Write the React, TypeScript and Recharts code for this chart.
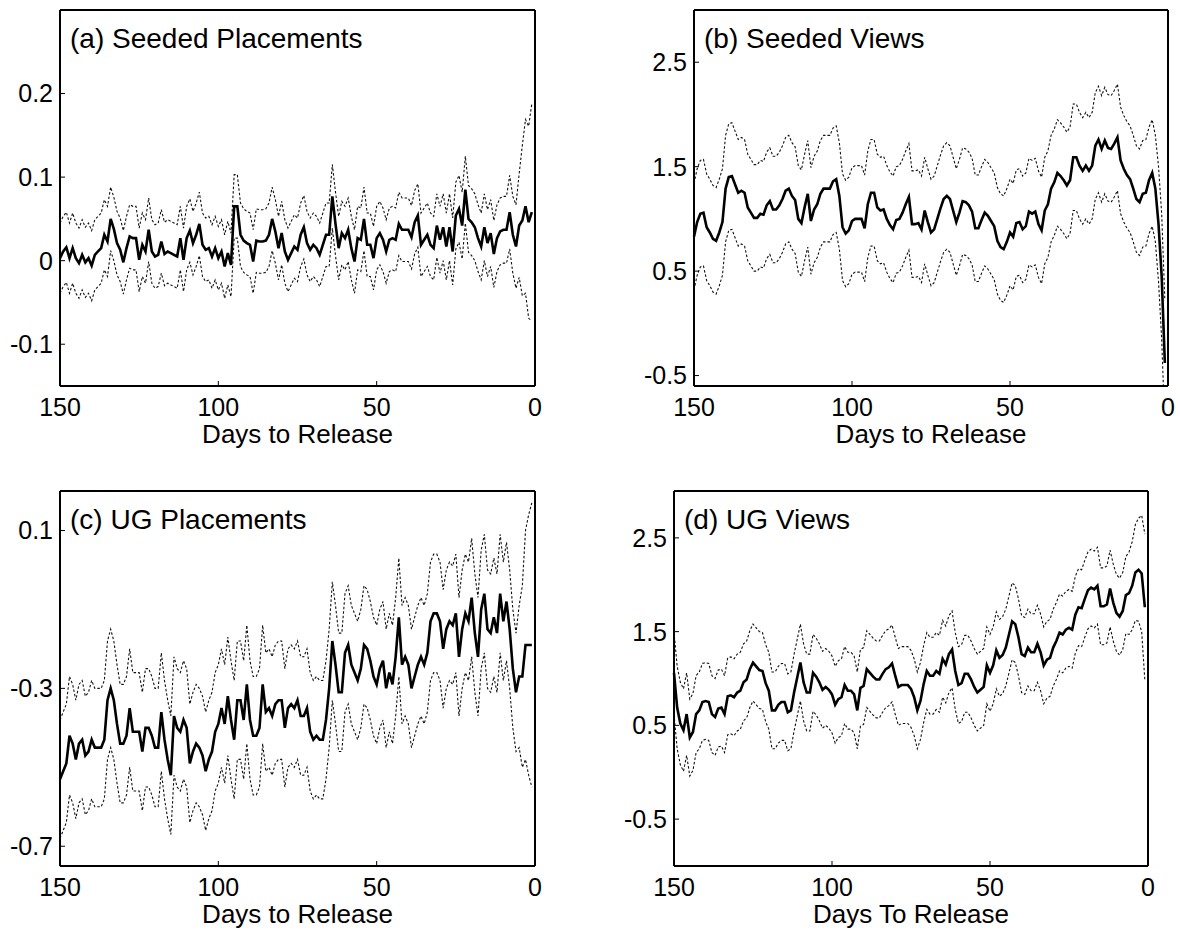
import { useMemo } from 'react';
import { Line, LineChart, XAxis, YAxis } from 'recharts';

// days to release, left (150) to right (1)
const DAYS = Array.from({ length: 150 }, (_, i) => 150 - i);
const X_TICKS = [150, 100, 50, 0];

// (a) Seeded Placements
const seededPlacementsEst = [
  0.003, 0.011, 0.016, 0.003, 0.015, 0.003, -0.003, 0.007, -0.002, 0.003,
  -0.006, 0.007, 0.011, 0.015, 0.031, 0.023, 0.05, 0.038, 0.021, 0.013,
  -0.002, 0.015, 0.029, 0.027, 0.027, 0.001, 0.019, 0.011, 0.037, 0.011,
  0.005, 0.007, 0.023, 0.008, 0.011, 0.009, 0.007, 0.005, 0.027, 0.001,
  0.027, 0.036, 0.021, 0.031, 0.044, 0.019, 0.013, 0.015, 0.005, 0.015,
  0.003, 0.011, -0.007, 0.009, -0.005, 0.065, 0.065, 0.031, 0.024, 0.021,
  0.019, -0.001, 0.024, 0.023, 0.023, 0.024, 0.031, 0.05, 0.035, 0.015,
  0.033, 0.011, 0.001, 0.009, 0.017, 0.013, 0.031, 0.04, 0.021, 0.013,
  0.019, 0.015, 0.007, 0.019, 0.031, 0.031, 0.077, 0.044, 0.015, 0.033,
  0.027, 0.037, 0.015, -0.001, 0.027, 0.025, 0.05, 0.019, 0.019, 0.003,
  0.027, 0.033, 0.025, 0.011, 0.025, 0.027, 0.025, 0.044, 0.037, 0.037,
  0.037, 0.028, 0.046, 0.054, 0.019, 0.025, 0.031, 0.019, 0.015, 0.042,
  0.025, 0.04, 0.017, 0.04, 0.011, 0.054, 0.062, 0.042, 0.085, 0.05,
  0.046, 0.04, 0.027, 0.017, 0.04, 0.021, 0.033, 0.008, 0.027, 0.035,
  0.037, 0.037, 0.058, 0.031, 0.017, 0.042, 0.048, 0.065, 0.046, 0.058,
];
const seededPlacementsHi = [
  0.045, 0.053, 0.058, 0.045, 0.057, 0.045, 0.039, 0.049, 0.04, 0.045,
  0.036, 0.049, 0.053, 0.057, 0.073, 0.065, 0.088, 0.076, 0.059, 0.051,
  0.036, 0.053, 0.067, 0.065, 0.065, 0.039, 0.057, 0.049, 0.075, 0.049,
  0.043, 0.045, 0.061, 0.046, 0.049, 0.047, 0.045, 0.043, 0.065, 0.039,
  0.065, 0.074, 0.059, 0.069, 0.082, 0.057, 0.051, 0.053, 0.043, 0.053,
  0.041, 0.049, 0.031, 0.047, 0.033, 0.103, 0.103, 0.069, 0.062, 0.059,
  0.057, 0.037, 0.062, 0.061, 0.061, 0.062, 0.069, 0.088, 0.073, 0.053,
  0.071, 0.049, 0.039, 0.047, 0.055, 0.051, 0.069, 0.078, 0.059, 0.051,
  0.057, 0.053, 0.045, 0.057, 0.069, 0.069, 0.115, 0.082, 0.053, 0.071,
  0.065, 0.075, 0.053, 0.037, 0.065, 0.063, 0.088, 0.057, 0.057, 0.041,
  0.065, 0.071, 0.063, 0.049, 0.063, 0.065, 0.063, 0.082, 0.075, 0.075,
  0.075, 0.066, 0.084, 0.092, 0.057, 0.063, 0.069, 0.057, 0.053, 0.08,
  0.065, 0.08, 0.057, 0.08, 0.051, 0.094, 0.102, 0.082, 0.125, 0.09,
  0.086, 0.08, 0.067, 0.057, 0.08, 0.061, 0.073, 0.048, 0.067, 0.075,
  0.077, 0.077, 0.102, 0.077, 0.067, 0.104, 0.138, 0.169, 0.161, 0.188,
];
const seededPlacementsLo = [
  -0.039, -0.031, -0.026, -0.039, -0.027, -0.039, -0.045, -0.035, -0.044, -0.039,
  -0.048, -0.035, -0.031, -0.027, -0.011, -0.019, 0.012, 0.0, -0.017, -0.025,
  -0.04, -0.023, -0.009, -0.011, -0.011, -0.037, -0.019, -0.027, -0.001, -0.027,
  -0.033, -0.031, -0.015, -0.03, -0.027, -0.029, -0.031, -0.033, -0.011, -0.037,
  -0.011, -0.002, -0.017, -0.007, 0.006, -0.019, -0.025, -0.023, -0.033, -0.023,
  -0.035, -0.027, -0.045, -0.029, -0.043, 0.027, 0.027, -0.007, -0.014, -0.017,
  -0.019, -0.039, -0.014, -0.015, -0.015, -0.014, -0.007, 0.012, -0.003, -0.023,
  -0.005, -0.027, -0.037, -0.029, -0.021, -0.025, -0.007, 0.002, -0.017, -0.025,
  -0.019, -0.023, -0.031, -0.019, -0.007, -0.007, 0.039, 0.006, -0.023, -0.005,
  -0.011, -0.001, -0.023, -0.039, -0.011, -0.013, 0.012, -0.019, -0.019, -0.035,
  -0.011, -0.005, -0.013, -0.027, -0.013, -0.011, -0.013, 0.006, -0.001, -0.001,
  -0.001, -0.01, 0.008, 0.016, -0.019, -0.013, -0.007, -0.019, -0.023, 0.004,
  -0.015, 0.0, -0.023, 0.0, -0.029, 0.014, 0.022, 0.002, 0.045, 0.01,
  0.006, 0.0, -0.013, -0.023, 0.0, -0.019, -0.007, -0.032, -0.013, -0.005,
  -0.003, -0.003, 0.014, -0.015, -0.033, -0.02, -0.042, -0.039, -0.069, -0.072,
];

// (b) Seeded Views
const seededViewsEst = [
  0.83, 0.97, 1.05, 1.06, 0.92, 0.87, 0.81, 0.79, 0.87, 0.97,
  1.29, 1.4, 1.41, 1.33, 1.25, 1.27, 1.25, 1.11, 1.06, 1.01,
  1.01, 1.05, 1.04, 1.13, 1.17, 1.09, 1.09, 1.13, 1.19, 1.27,
  1.29, 1.22, 1.18, 1.0, 0.96, 1.11, 1.24, 0.98, 1.09, 1.14,
  1.24, 1.29, 1.29, 1.29, 1.36, 1.38, 1.22, 0.92, 0.86, 0.89,
  0.98, 1.0, 1.0, 1.0, 0.91, 1.14, 1.25, 1.25, 1.11, 1.08,
  1.09, 1.0, 0.94, 0.9, 0.99, 1.0, 1.06, 1.14, 1.21, 0.95,
  0.95, 0.96, 0.9, 1.08, 0.97, 0.87, 0.9, 1.0, 1.1, 1.19,
  1.22, 1.19, 1.08, 0.97, 1.06, 1.17, 1.16, 1.13, 1.07, 0.91,
  0.91, 0.99, 1.06, 1.03, 0.98, 0.93, 0.79, 0.73, 0.71, 0.78,
  0.87, 0.83, 0.96, 0.97, 0.9, 0.93, 1.07, 1.05, 1.07, 0.95,
  0.89, 1.08, 1.14, 1.29, 1.35, 1.44, 1.41, 1.37, 1.32, 1.37,
  1.59, 1.59, 1.51, 1.46, 1.51, 1.46, 1.51, 1.7, 1.76, 1.67,
  1.75, 1.68, 1.67, 1.72, 1.78, 1.56, 1.48, 1.42, 1.38, 1.29,
  1.19, 1.16, 1.24, 1.25, 1.37, 1.44, 1.29, 0.95, 0.45, -0.38,
];
const seededViewsHi = [
  1.34, 1.48, 1.56, 1.57, 1.43, 1.38, 1.32, 1.3, 1.38, 1.48,
  1.8, 1.91, 1.92, 1.84, 1.76, 1.78, 1.76, 1.62, 1.57, 1.52,
  1.52, 1.56, 1.55, 1.64, 1.68, 1.6, 1.6, 1.64, 1.7, 1.78,
  1.8, 1.73, 1.69, 1.51, 1.47, 1.62, 1.75, 1.49, 1.6, 1.65,
  1.75, 1.8, 1.8, 1.8, 1.87, 1.89, 1.73, 1.43, 1.37, 1.4,
  1.49, 1.51, 1.51, 1.51, 1.42, 1.65, 1.76, 1.76, 1.62, 1.59,
  1.6, 1.51, 1.45, 1.41, 1.5, 1.51, 1.57, 1.65, 1.72, 1.46,
  1.46, 1.47, 1.41, 1.59, 1.48, 1.38, 1.41, 1.51, 1.61, 1.7,
  1.73, 1.7, 1.59, 1.48, 1.57, 1.68, 1.67, 1.64, 1.58, 1.42,
  1.42, 1.5, 1.57, 1.54, 1.49, 1.44, 1.3, 1.24, 1.22, 1.29,
  1.38, 1.34, 1.47, 1.48, 1.41, 1.44, 1.58, 1.56, 1.58, 1.46,
  1.4, 1.59, 1.65, 1.8, 1.86, 1.95, 1.92, 1.88, 1.83, 1.88,
  2.1, 2.1, 2.02, 1.97, 2.02, 1.97, 2.02, 2.21, 2.27, 2.18,
  2.26, 2.19, 2.18, 2.23, 2.29, 2.07, 1.99, 1.93, 1.89, 1.8,
  1.7, 1.67, 1.75, 1.76, 1.88, 1.95, 1.8, 1.5, 1.05, 0.22,
];
const seededViewsLo = [
  0.32, 0.46, 0.54, 0.55, 0.41, 0.36, 0.3, 0.28, 0.36, 0.46,
  0.78, 0.89, 0.9, 0.82, 0.74, 0.76, 0.74, 0.6, 0.55, 0.5,
  0.5, 0.54, 0.53, 0.62, 0.66, 0.58, 0.58, 0.62, 0.68, 0.76,
  0.78, 0.71, 0.67, 0.49, 0.45, 0.6, 0.73, 0.47, 0.58, 0.63,
  0.73, 0.78, 0.78, 0.78, 0.85, 0.87, 0.71, 0.41, 0.35, 0.38,
  0.47, 0.49, 0.49, 0.49, 0.4, 0.63, 0.74, 0.74, 0.6, 0.57,
  0.58, 0.49, 0.43, 0.39, 0.48, 0.49, 0.55, 0.63, 0.7, 0.44,
  0.44, 0.45, 0.39, 0.57, 0.46, 0.36, 0.39, 0.49, 0.59, 0.68,
  0.71, 0.68, 0.57, 0.46, 0.55, 0.66, 0.65, 0.62, 0.56, 0.4,
  0.4, 0.48, 0.55, 0.52, 0.47, 0.42, 0.28, 0.22, 0.2, 0.27,
  0.36, 0.32, 0.45, 0.46, 0.39, 0.42, 0.56, 0.54, 0.56, 0.44,
  0.38, 0.57, 0.63, 0.78, 0.84, 0.93, 0.9, 0.86, 0.81, 0.86,
  1.08, 1.08, 1.0, 0.95, 1.0, 0.95, 1.0, 1.19, 1.25, 1.16,
  1.24, 1.17, 1.16, 1.21, 1.27, 1.05, 0.97, 0.91, 0.87, 0.78,
  0.68, 0.65, 0.73, 0.74, 0.86, 0.93, 0.78, 0.4, -0.15, -0.98,
];

// (c) UG Placements
const ugPlacementsEst = [
  -0.53, -0.51, -0.49, -0.42, -0.44, -0.48, -0.44, -0.43, -0.47, -0.46,
  -0.43, -0.45, -0.45, -0.45, -0.43, -0.33, -0.3, -0.33, -0.39, -0.44,
  -0.44, -0.42, -0.35, -0.41, -0.41, -0.41, -0.46, -0.4, -0.4, -0.42,
  -0.45, -0.45, -0.36, -0.43, -0.48, -0.52, -0.37, -0.4, -0.41, -0.38,
  -0.4, -0.49, -0.46, -0.44, -0.45, -0.47, -0.51, -0.48, -0.46, -0.41,
  -0.39, -0.35, -0.39, -0.32, -0.38, -0.43, -0.33, -0.33, -0.38, -0.29,
  -0.38, -0.42, -0.42, -0.4, -0.29, -0.36, -0.35, -0.37, -0.34, -0.33,
  -0.33, -0.4, -0.35, -0.34, -0.35, -0.33, -0.37, -0.37, -0.35, -0.41,
  -0.43, -0.42, -0.43, -0.43, -0.38, -0.3, -0.18, -0.24, -0.31, -0.31,
  -0.21, -0.19, -0.24, -0.26, -0.28, -0.25, -0.19, -0.2, -0.23, -0.27,
  -0.29, -0.25, -0.23, -0.3, -0.26, -0.29, -0.22, -0.12, -0.24, -0.22,
  -0.24, -0.3, -0.27, -0.24, -0.22, -0.24, -0.21, -0.13, -0.11, -0.11,
  -0.13, -0.2, -0.15, -0.13, -0.14, -0.11, -0.22, -0.15, -0.11, -0.13,
  -0.07, -0.16, -0.22, -0.1, -0.06, -0.15, -0.16, -0.12, -0.16, -0.06,
  -0.13, -0.08, -0.15, -0.25, -0.31, -0.27, -0.27, -0.19, -0.19, -0.19,
];
const ugPlacementsHi = [
  -0.38, -0.36, -0.34, -0.27, -0.29, -0.33, -0.29, -0.28, -0.32, -0.31,
  -0.28, -0.3, -0.3, -0.3, -0.28, -0.18, -0.15, -0.18, -0.24, -0.29,
  -0.29, -0.27, -0.2, -0.26, -0.26, -0.26, -0.31, -0.25, -0.25, -0.27,
  -0.3, -0.3, -0.21, -0.28, -0.33, -0.37, -0.22, -0.25, -0.26, -0.23,
  -0.25, -0.34, -0.31, -0.29, -0.3, -0.32, -0.36, -0.33, -0.31, -0.26,
  -0.24, -0.2, -0.24, -0.17, -0.23, -0.28, -0.18, -0.18, -0.23, -0.14,
  -0.23, -0.27, -0.27, -0.25, -0.14, -0.21, -0.2, -0.22, -0.19, -0.18,
  -0.18, -0.25, -0.2, -0.19, -0.2, -0.18, -0.22, -0.22, -0.2, -0.26,
  -0.28, -0.27, -0.28, -0.28, -0.23, -0.15, -0.03, -0.09, -0.16, -0.16,
  -0.06, -0.04, -0.09, -0.11, -0.13, -0.1, -0.04, -0.05, -0.08, -0.12,
  -0.14, -0.1, -0.08, -0.15, -0.11, -0.14, -0.07, 0.03, -0.09, -0.07,
  -0.09, -0.15, -0.12, -0.09, -0.07, -0.09, -0.06, 0.02, 0.04, 0.04,
  0.02, -0.05, 0.0, 0.02, 0.01, 0.04, -0.07, 0.0, 0.04, 0.02,
  0.08, -0.01, -0.07, 0.05, 0.09, 0.0, -0.01, 0.03, -0.01, 0.09,
  0.02, 0.07, 0.0, -0.1, -0.16, -0.09, -0.04, 0.1, 0.14, 0.17,
];
const ugPlacementsLo = [
  -0.68, -0.66, -0.64, -0.57, -0.59, -0.63, -0.59, -0.58, -0.62, -0.61,
  -0.58, -0.6, -0.6, -0.6, -0.58, -0.48, -0.45, -0.48, -0.54, -0.59,
  -0.59, -0.57, -0.5, -0.56, -0.56, -0.56, -0.61, -0.55, -0.55, -0.57,
  -0.6, -0.6, -0.51, -0.58, -0.63, -0.67, -0.52, -0.55, -0.56, -0.53,
  -0.55, -0.64, -0.61, -0.59, -0.6, -0.62, -0.66, -0.63, -0.61, -0.56,
  -0.54, -0.5, -0.54, -0.47, -0.53, -0.58, -0.48, -0.48, -0.53, -0.44,
  -0.53, -0.57, -0.57, -0.55, -0.44, -0.51, -0.5, -0.52, -0.49, -0.48,
  -0.48, -0.55, -0.5, -0.49, -0.5, -0.48, -0.52, -0.52, -0.5, -0.56,
  -0.58, -0.57, -0.58, -0.58, -0.53, -0.45, -0.33, -0.39, -0.46, -0.46,
  -0.36, -0.34, -0.39, -0.41, -0.43, -0.4, -0.34, -0.35, -0.38, -0.42,
  -0.44, -0.4, -0.38, -0.45, -0.41, -0.44, -0.37, -0.27, -0.39, -0.37,
  -0.39, -0.45, -0.42, -0.39, -0.37, -0.39, -0.36, -0.28, -0.26, -0.26,
  -0.28, -0.35, -0.3, -0.28, -0.29, -0.26, -0.37, -0.3, -0.26, -0.28,
  -0.22, -0.31, -0.37, -0.25, -0.21, -0.3, -0.31, -0.27, -0.31, -0.21,
  -0.28, -0.23, -0.3, -0.4, -0.46, -0.45, -0.5, -0.48, -0.52, -0.55,
];

// (d) UG Views
const ugViewsEst = [
  1.06, 0.69, 0.52, 0.45, 0.62, 0.37, 0.43, 0.62, 0.66, 0.75,
  0.76, 0.75, 0.62, 0.59, 0.68, 0.69, 0.62, 0.81, 0.82, 0.8,
  0.85, 0.87, 0.96, 0.99, 1.1, 1.17, 1.13, 1.09, 1.08, 0.95,
  0.87, 0.66, 0.66, 0.72, 0.75, 0.75, 0.64, 0.66, 0.85, 1.01,
  1.17, 0.96, 0.85, 0.85, 1.06, 1.02, 0.96, 0.88, 0.91, 0.88,
  0.83, 0.72, 0.78, 0.8, 0.93, 0.87, 0.87, 0.83, 0.66, 0.9,
  0.92, 1.1, 1.06, 1.02, 0.99, 0.99, 1.05, 1.1, 1.12, 1.16,
  1.03, 0.91, 0.93, 0.93, 0.93, 0.89, 0.8, 0.66, 0.76, 0.94,
  1.08, 1.03, 1.03, 1.08, 1.05, 1.21, 1.15, 1.26, 1.31, 1.08,
  0.93, 0.95, 1.05, 1.05, 0.99, 0.91, 0.85, 0.88, 0.91, 1.14,
  1.06, 1.14, 1.3, 1.22, 1.25, 1.33, 1.47, 1.61, 1.58, 1.44,
  1.26, 1.24, 1.33, 1.28, 1.28, 1.37, 1.28, 1.14, 1.2, 1.22,
  1.33, 1.4, 1.49, 1.47, 1.52, 1.54, 1.52, 1.68, 1.76, 1.75,
  1.85, 1.94, 1.97, 1.95, 1.99, 1.77, 1.77, 1.79, 1.96, 1.81,
  1.7, 1.66, 1.72, 1.89, 1.91, 1.99, 2.13, 2.16, 2.12, 1.76,
];
const ugViewsHi = [
  1.5, 1.13, 0.96, 0.89, 1.06, 0.78, 0.84, 1.03, 1.07, 1.16,
  1.17, 1.16, 1.03, 1.0, 1.09, 1.1, 1.03, 1.22, 1.23, 1.21,
  1.26, 1.28, 1.37, 1.4, 1.51, 1.58, 1.54, 1.5, 1.49, 1.36,
  1.28, 1.07, 1.07, 1.13, 1.16, 1.16, 1.05, 1.07, 1.26, 1.42,
  1.58, 1.37, 1.26, 1.26, 1.47, 1.43, 1.37, 1.29, 1.32, 1.29,
  1.24, 1.13, 1.19, 1.21, 1.34, 1.28, 1.28, 1.24, 1.07, 1.31,
  1.33, 1.51, 1.47, 1.43, 1.4, 1.4, 1.46, 1.51, 1.53, 1.57,
  1.44, 1.32, 1.34, 1.34, 1.34, 1.3, 1.21, 1.07, 1.17, 1.35,
  1.49, 1.44, 1.44, 1.49, 1.46, 1.62, 1.56, 1.67, 1.72, 1.49,
  1.34, 1.36, 1.46, 1.46, 1.4, 1.32, 1.26, 1.29, 1.32, 1.55,
  1.47, 1.55, 1.71, 1.63, 1.66, 1.74, 1.88, 2.02, 1.99, 1.85,
  1.67, 1.65, 1.74, 1.69, 1.69, 1.78, 1.69, 1.55, 1.61, 1.63,
  1.74, 1.81, 1.9, 1.88, 1.93, 1.95, 1.93, 2.09, 2.17, 2.16,
  2.26, 2.35, 2.38, 2.36, 2.4, 2.18, 2.18, 2.2, 2.37, 2.22,
  2.11, 2.07, 2.13, 2.3, 2.35, 2.46, 2.64, 2.71, 2.74, 2.54,
];
const ugViewsLo = [
  0.62, 0.25, 0.08, 0.01, 0.18, -0.04, 0.02, 0.21, 0.25, 0.34,
  0.35, 0.34, 0.21, 0.18, 0.27, 0.28, 0.21, 0.4, 0.41, 0.39,
  0.44, 0.46, 0.55, 0.58, 0.69, 0.76, 0.72, 0.68, 0.67, 0.54,
  0.46, 0.25, 0.25, 0.31, 0.34, 0.34, 0.23, 0.25, 0.44, 0.6,
  0.76, 0.55, 0.44, 0.44, 0.65, 0.61, 0.55, 0.47, 0.5, 0.47,
  0.42, 0.31, 0.37, 0.39, 0.52, 0.46, 0.46, 0.42, 0.25, 0.49,
  0.51, 0.69, 0.65, 0.61, 0.58, 0.58, 0.64, 0.69, 0.71, 0.75,
  0.62, 0.5, 0.52, 0.52, 0.52, 0.48, 0.39, 0.25, 0.35, 0.53,
  0.67, 0.62, 0.62, 0.67, 0.64, 0.8, 0.74, 0.85, 0.9, 0.67,
  0.52, 0.54, 0.64, 0.64, 0.58, 0.5, 0.44, 0.47, 0.5, 0.73,
  0.65, 0.73, 0.89, 0.81, 0.84, 0.92, 1.06, 1.2, 1.17, 1.03,
  0.85, 0.83, 0.92, 0.87, 0.87, 0.96, 0.87, 0.73, 0.79, 0.81,
  0.92, 0.99, 1.08, 1.06, 1.11, 1.13, 1.11, 1.27, 1.35, 1.34,
  1.44, 1.53, 1.56, 1.54, 1.58, 1.36, 1.36, 1.38, 1.55, 1.4,
  1.29, 1.25, 1.31, 1.48, 1.47, 1.52, 1.62, 1.61, 1.5, 0.98,
];

const FONT = '"Liberation Sans", Arial, Helvetica, sans-serif';
const AXIS_LINE = { stroke: '#000', strokeWidth: 2 };
const TICK_LINE = { stroke: '#000', strokeWidth: 1 };
const TICK_TEXT = { fill: '#000', fontSize: 25 };

interface PanelProps {
  left: number;
  top: number;
  width: number;
  height: number;
  title: string;
  xLabel: string;
  est: number[];
  hi: number[];
  lo: number[];
  domain: [number, number];
  yTicks: number[];
}

function Panel({ left, top, width, height, title, xLabel, est, hi, lo, domain, yTicks }: PanelProps) {
  const data = useMemo(
    () => DAYS.map((day, i) => ({ day, est: est[i], hi: hi[i], lo: lo[i] })),
    [est, hi, lo]
  );

  return (
    <div style={{ position: 'absolute', left, top, width, height }}>
      <LineChart width={width} height={height} data={data} margin={{ top: 5, right: 20, bottom: 0, left: 0 }}>
        <XAxis
          dataKey='day'
          type='number'
          domain={[0, 150]}
          reversed
          ticks={X_TICKS}
          interval={0}
          height={64}
          tickSize={-5}
          tickMargin={17}
          axisLine={AXIS_LINE}
          tickLine={TICK_LINE}
          tick={TICK_TEXT}
          label={{ value: xLabel, position: 'insideBottom', offset: 7, fill: '#000', fontSize: 26 }}
        />
        <XAxis
          xAxisId='top'
          orientation='top'
          dataKey='day'
          type='number'
          domain={[0, 150]}
          reversed
          ticks={X_TICKS}
          interval={0}
          height={5}
          tickSize={-5}
          axisLine={AXIS_LINE}
          tickLine={TICK_LINE}
          tick={false}
        />
        <YAxis
          type='number'
          domain={domain}
          allowDataOverflow
          ticks={yTicks}
          interval={0}
          width={60}
          tickSize={-5}
          tickMargin={12}
          axisLine={AXIS_LINE}
          tickLine={TICK_LINE}
          tick={TICK_TEXT}
        />
        <YAxis
          yAxisId='right'
          orientation='right'
          type='number'
          domain={domain}
          allowDataOverflow
          ticks={yTicks}
          interval={0}
          width={5}
          tickSize={-5}
          axisLine={AXIS_LINE}
          tickLine={TICK_LINE}
          tick={false}
        />
        <Line dataKey='hi' stroke='#111' strokeWidth={1.1} strokeDasharray='2.5 2' dot={false} isAnimationActive={false} />
        <Line dataKey='lo' stroke='#111' strokeWidth={1.1} strokeDasharray='2.5 2' dot={false} isAnimationActive={false} />
        <Line dataKey='est' stroke='#000' strokeWidth={2.6} dot={false} isAnimationActive={false} />
      </LineChart>
      <svg width={width} height={60} style={{ position: 'absolute', left: 0, top: 0, pointerEvents: 'none' }}>
        <text x={70} y={48} fontSize={28} fill='#000'>
          {title}
        </text>
      </svg>
    </div>
  );
}

export default function App() {
  return (
    <div style={{ position: 'absolute', left: 0, top: 0, width: 1180, height: 932, background: '#fff', fontFamily: FONT }}>
      <Panel
        left={0}
        top={0}
        width={560}
        height={450}
        title='(a) Seeded Placements'
        xLabel='Days to Release'
        est={seededPlacementsEst}
        hi={seededPlacementsHi}
        lo={seededPlacementsLo}
        domain={[-0.15, 0.3]}
        yTicks={[-0.1, 0, 0.1, 0.2]}
      />
      <Panel
        left={634}
        top={0}
        width={559}
        height={450}
        title='(b) Seeded Views'
        xLabel='Days to Release'
        est={seededViewsEst}
        hi={seededViewsHi}
        lo={seededViewsLo}
        domain={[-0.6, 3]}
        yTicks={[-0.5, 0.5, 1.5, 2.5]}
      />
      <Panel
        left={0}
        top={481}
        width={560}
        height={449}
        title='(c) UG Placements'
        xLabel='Days to Release'
        est={ugPlacementsEst}
        hi={ugPlacementsHi}
        lo={ugPlacementsLo}
        domain={[-0.75, 0.2]}
        yTicks={[-0.7, -0.3, 0.1]}
      />
      <Panel
        left={614}
        top={481}
        width={559}
        height={449}
        title='(d) UG Views'
        xLabel='Days To Release'
        est={ugViewsEst}
        hi={ugViewsHi}
        lo={ugViewsLo}
        domain={[-1, 3]}
        yTicks={[-0.5, 0.5, 1.5, 2.5]}
      />
    </div>
  );
}
